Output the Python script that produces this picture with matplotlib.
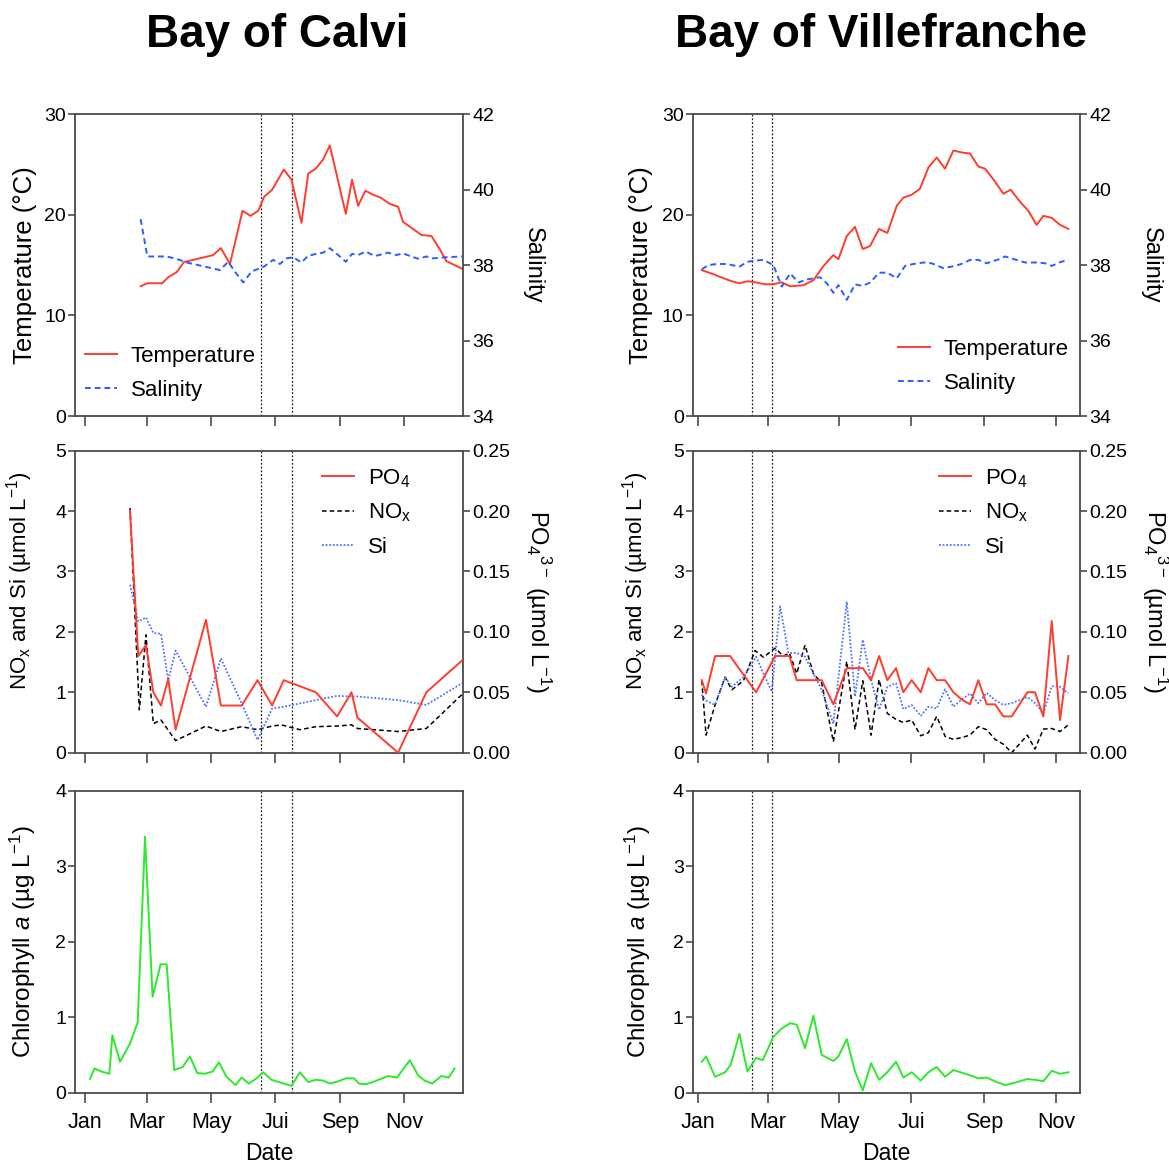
import matplotlib
matplotlib.use("Agg")
import matplotlib.pyplot as plt
from matplotlib.ticker import FormatStrFormatter

plt.rcParams['font.family'] = ['Liberation Sans', 'DejaVu Sans']
plt.rcParams['mathtext.fontset'] = 'custom'
plt.rcParams['mathtext.rm'] = 'Liberation Sans'
plt.rcParams['mathtext.it'] = 'Liberation Sans:italic'
plt.rcParams['mathtext.bf'] = 'Liberation Sans:bold'

# ---- data, x in day of year ----
month_ticks = [0, 59, 120, 181, 243, 304]
month_labels = ["Jan", "Mar", "May", "Jui", "Sep", "Nov"]

calvi_window = [167.6, 196.9]
ville_window = [45.9, 62.9]

# Bay of Calvi
calvi_temp_day = [52.9, 59.3, 73.5, 79.2, 87.2, 94.1, 122.0, 129.3, 137.9, 149.9,
                  157.5, 164.8, 170.5, 178.1, 189.2, 196.5, 206.0, 212.4, 219.7, 226.6,
                  233.0, 248.2, 254.2, 259.9, 266.9, 274.2, 281.5, 290.0, 298.0, 302.7,
                  312.2, 320.2, 329.7, 337.6, 343.9, 359.8]
calvi_temp = [12.9, 13.2, 13.2, 13.8, 14.3, 15.3, 16.0, 16.7, 15.1, 20.4,
              19.9, 20.4, 21.8, 22.5, 24.5, 23.5, 19.2, 24.1, 24.6, 25.5,
              26.9, 20.1, 23.5, 20.9, 22.4, 22.0, 21.7, 21.1, 20.8, 19.3,
              18.6, 18.0, 17.9, 16.6, 15.4, 14.6]
calvi_sal_day = [52.9, 59.3, 73.5, 80.8, 88.8, 96.7, 128.4, 136.3, 142.6, 150.6,
                 158.5, 164.8, 170.2, 179.1, 185.4, 191.8, 198.1, 206.0, 212.4, 220.3,
                 226.6, 233.0, 240.9, 248.2, 254.2, 259.9, 267.2, 275.8, 288.4, 296.4,
                 302.7, 310.6, 317.0, 324.9, 331.2, 343.9, 359.8]
calvi_sal = [39.22, 38.23, 38.23, 38.21, 38.15, 38.07, 37.87, 38.09, 37.83, 37.54,
             37.83, 37.90, 37.96, 38.14, 38.03, 38.18, 38.21, 38.07, 38.25, 38.30,
             38.33, 38.45, 38.27, 38.09, 38.30, 38.27, 38.36, 38.24, 38.33, 38.27,
             38.31, 38.23, 38.17, 38.23, 38.18, 38.21, 38.23]

calvi_po4_day = [42.8, 50.7, 58.0, 65.0, 72.3, 79.2, 86.2, 115.1, 129.3, 149.0,
                 164.2, 178.1, 189.2, 219.7, 240.0, 253.6, 259.3, 298.0, 324.9, 359.8]
calvi_po4 = [0.200, 0.080, 0.089, 0.050, 0.039, 0.061, 0.019, 0.110, 0.039, 0.039,
             0.060, 0.039, 0.060, 0.050, 0.030, 0.050, 0.029, 0.000, 0.050, 0.077]
calvi_nox_day = [42.8, 51.7, 58.0, 65.0, 72.3, 86.2, 115.1, 129.3, 149.0, 164.2,
                 178.1, 187.0, 204.5, 219.7, 240.0, 253.6, 259.3, 298.0, 324.9, 359.8]
calvi_nox = [4.05, 0.71, 1.95, 0.48, 0.54, 0.20, 0.44, 0.35, 0.43, 0.38,
             0.44, 0.46, 0.38, 0.43, 0.44, 0.46, 0.40, 0.35, 0.40, 0.98]
calvi_si_day = [42.8, 50.7, 58.0, 65.0, 72.3, 79.2, 86.2, 115.1, 129.3, 149.0,
                164.2, 178.1, 189.2, 219.7, 240.0, 253.6, 259.3, 298.0, 324.9, 359.8]
calvi_si = [2.78, 2.17, 2.24, 1.98, 1.97, 1.20, 1.69, 0.76, 1.56, 0.82,
            0.21, 0.73, 0.76, 0.87, 0.94, 0.93, 0.93, 0.87, 0.79, 1.16]

calvi_chl_day = [4.8, 8.9, 15.8, 23.1, 26.0, 33.3, 42.8, 50.1, 57.1, 64.3,
                 71.9, 77.7, 84.9, 92.9, 99.8, 106.8, 114.1, 121.4, 127.4, 134.7,
                 143.3, 149.0, 156.0, 163.2, 169.6, 177.5, 196.5, 204.5, 212.4, 219.4,
                 226.6, 233.0, 240.9, 248.2, 256.1, 260.6, 267.2, 275.8, 288.4, 297.0,
                 309.1, 317.0, 323.3, 330.3, 339.2, 346.1, 351.8]
calvi_chl = [0.18, 0.32, 0.28, 0.25, 0.76, 0.41, 0.65, 0.93, 3.39, 1.27,
             1.70, 1.70, 0.30, 0.34, 0.48, 0.26, 0.25, 0.28, 0.40, 0.21,
             0.10, 0.20, 0.12, 0.19, 0.27, 0.17, 0.09, 0.27, 0.14, 0.17,
             0.16, 0.12, 0.15, 0.19, 0.19, 0.12, 0.11, 0.15, 0.22, 0.20,
             0.43, 0.23, 0.16, 0.12, 0.22, 0.20, 0.32]

# Bay of Villefranche
ville_temp_day = [2.9, 12.8, 21.3, 28.4, 34.9, 41.7, 48.2, 56.7, 63.8, 70.9,
                  78.0, 89.3, 97.8, 106.3, 114.8, 119.1, 126.2, 133.2, 139.8, 146.0,
                  153.7, 160.7, 168.7, 174.3, 181.4, 188.5, 195.6, 202.7, 209.8, 216.9,
                  224.0, 231.0, 238.1, 243.8, 252.3, 259.4, 265.6, 273.6, 280.6, 287.7,
                  293.4, 300.5, 307.6, 314.7]
ville_temp = [14.5, 14.1, 13.7, 13.4, 13.2, 13.4, 13.3, 13.1, 13.1, 13.3,
              12.9, 13.0, 13.5, 14.9, 16.0, 15.6, 17.9, 18.8, 16.6, 16.9,
              18.6, 18.2, 20.9, 21.7, 22.0, 22.6, 24.7, 25.7, 24.6, 26.4,
              26.2, 26.1, 24.8, 24.6, 23.3, 22.1, 22.5, 21.3, 20.4, 19.0,
              19.9, 19.7, 19.0, 18.6]
ville_sal_day = [2.9, 8.5, 15.6, 24.1, 34.9, 41.7, 48.2, 55.3, 63.8, 70.9,
                 78.0, 85.1, 92.2, 103.5, 109.2, 114.8, 119.1, 126.2, 133.2, 139.8,
                 146.0, 153.7, 160.7, 168.7, 175.8, 182.8, 191.4, 198.4, 208.4, 218.3,
                 225.4, 231.0, 238.1, 245.2, 255.1, 260.8, 269.3, 277.8, 287.7, 294.8,
                 300.5, 307.6, 314.7]
ville_sal = [37.89, 38.00, 38.03, 38.03, 37.96, 38.09, 38.12, 38.14, 38.00, 37.43,
             37.78, 37.54, 37.62, 37.68, 37.52, 37.27, 37.47, 37.08, 37.49, 37.45,
             37.54, 37.80, 37.80, 37.65, 37.98, 38.03, 38.07, 38.05, 37.92, 37.98,
             38.05, 38.14, 38.14, 38.05, 38.15, 38.23, 38.15, 38.07, 38.07, 38.05,
             37.98, 38.08, 38.14]

ville_po4_day = [2.9, 6.5, 14.2, 27.0, 49.1, 65.2, 77.4, 83.6, 104.9, 114.8,
                 126.2, 139.8, 146.9, 153.7, 160.7, 168.1, 174.3, 181.4, 189.1, 195.6,
                 202.7, 209.8, 216.9, 224.0, 231.0, 238.1, 245.2, 252.3, 259.4, 266.5,
                 279.8, 286.3, 293.4, 300.5, 307.6, 314.7]
ville_po4 = [0.060, 0.049, 0.080, 0.080, 0.050, 0.080, 0.080, 0.060, 0.060, 0.040,
             0.070, 0.070, 0.060, 0.080, 0.060, 0.070, 0.050, 0.060, 0.050, 0.070,
             0.060, 0.060, 0.050, 0.044, 0.040, 0.060, 0.040, 0.040, 0.030, 0.030,
             0.050, 0.050, 0.030, 0.109, 0.027, 0.080]
ville_nox_day = [2.9, 6.5, 14.2, 22.7, 28.4, 38.3, 48.2, 55.3, 65.2, 72.3,
                 77.4, 83.6, 90.7, 97.8, 104.9, 114.8, 126.2, 133.2, 139.8, 146.9,
                 153.7, 160.7, 168.1, 174.3, 181.4, 189.1, 195.6, 202.7, 209.8, 216.9,
                 224.0, 231.0, 238.1, 245.2, 252.3, 259.4, 266.5, 279.8, 286.3, 293.4,
                 300.5, 307.6, 314.7]
ville_nox = [1.19, 0.29, 0.79, 1.25, 1.04, 1.19, 1.69, 1.58, 1.73, 1.60,
             1.65, 1.31, 1.78, 1.31, 1.15, 0.18, 1.51, 0.38, 1.19, 0.29,
             1.21, 0.65, 0.55, 0.50, 0.54, 0.28, 0.33, 0.60, 0.27, 0.22,
             0.25, 0.29, 0.43, 0.38, 0.22, 0.14, 0.00, 0.29, 0.06, 0.39,
             0.40, 0.35, 0.46]
ville_si_day = [2.9, 6.5, 14.2, 22.7, 28.4, 38.3, 49.1, 55.3, 62.4, 69.5,
                76.6, 83.6, 90.7, 97.8, 104.9, 114.8, 126.2, 133.2, 139.8, 146.9,
                153.7, 160.7, 168.1, 174.3, 181.4, 189.1, 195.6, 202.7, 209.8, 216.9,
                224.0, 231.0, 238.1, 245.2, 252.3, 259.4, 266.5, 279.8, 286.3, 293.4,
                300.5, 307.6, 314.7]
ville_si = [0.96, 0.86, 0.79, 1.25, 1.09, 1.25, 1.59, 1.31, 1.01, 2.42,
            1.65, 1.65, 1.59, 1.31, 1.04, 0.48, 2.50, 0.93, 1.87, 1.20,
            0.71, 1.09, 1.15, 0.72, 0.79, 0.61, 0.76, 0.73, 1.05, 0.76,
            0.88, 0.98, 0.82, 0.99, 0.87, 0.79, 0.82, 0.92, 0.82, 0.65,
            1.10, 1.09, 0.98]

ville_chl_day = [2.9, 6.5, 14.2, 22.7, 27.5, 34.9, 41.7, 49.1, 54.7, 63.8,
                 70.9, 78.0, 83.6, 90.7, 97.8, 104.9, 114.8, 119.1, 126.2, 133.2,
                 139.8, 146.9, 153.7, 160.7, 168.1, 174.3, 181.4, 189.1, 195.6, 202.7,
                 209.8, 216.9, 231.0, 238.1, 245.2, 252.3, 260.8, 266.5, 279.8, 286.3,
                 293.4, 300.5, 307.6, 314.7]
ville_chl = [0.41, 0.48, 0.21, 0.27, 0.37, 0.78, 0.28, 0.46, 0.43, 0.74,
             0.85, 0.92, 0.90, 0.59, 1.02, 0.50, 0.42, 0.48, 0.71, 0.28,
             0.03, 0.39, 0.17, 0.27, 0.41, 0.20, 0.27, 0.16, 0.27, 0.34,
             0.21, 0.30, 0.23, 0.19, 0.20, 0.15, 0.10, 0.12, 0.18, 0.17,
             0.15, 0.29, 0.25, 0.27]

# ---- style ----
RED = '#ff3d2e'
BLUE = '#2d5cff'
SI_BLUE = '#4d74ff'
GREEN = '#2ee82e'
SPINE = '#4a4a4a'


def style_ax(ax, xlim, window, show_months):
    for s in ax.spines.values():
        s.set_color(SPINE)
        s.set_linewidth(1.3)
    ax.set_xlim(*xlim)
    ax.set_xticks(month_ticks)
    if show_months:
        ax.set_xticklabels(month_labels)
        ax.set_xlabel('Date', fontsize=16.5, va='center')
        ax.xaxis.set_label_coords(0.5, -0.203)
    else:
        ax.set_xticklabels([])
    ax.tick_params(axis='y', direction='out', length=5, width=1.2, color=SPINE,
                   labelsize=14, pad=1.5)
    ax.tick_params(axis='x', direction='out', length=7, width=1.2, color=SPINE,
                   labelsize=15.5, pad=7)
    for d in window:
        ax.axvline(d, color='#222222', lw=0.9, ls=(0, (1.5, 1.5)), zorder=1)


def ylabel_left(ax, text, x, y=0.5, size=17.5):
    ax.set_ylabel(text, fontsize=size, va='center', ha='center')
    ax.yaxis.set_label_coords(x, y)


def ylabel_right(ax, text, x, y=0.5):
    ax.set_ylabel(text, fontsize=17, rotation=270, va='center', ha='center',
                  rotation_mode='anchor')
    ax.yaxis.set_label_coords(x, y)


def style_twin(ax2):
    for s in ax2.spines.values():
        s.set_visible(False)
    ax2.tick_params(direction='out', length=5, width=1.2, color=SPINE,
                    labelsize=14, pad=1.5)


fig = plt.figure(figsize=(11.69, 11.66), dpi=100)

cols = [
    dict(x0=0.0642, w=0.3319, xlim=(-9.5, 359.8), window=calvi_window, title='Bay of Calvi',
         tx=0.2374, temp=(calvi_temp_day, calvi_temp), sal=(calvi_sal_day, calvi_sal),
         po4=(calvi_po4_day, calvi_po4), nox=(calvi_nox_day, calvi_nox),
         si=(calvi_si_day, calvi_si), chl=(calvi_chl_day, calvi_chl),
         leg_top=(0.026, 0.232), leg_mid=(0.637, 0.946),
         lab_l=(-0.129, -0.142, -0.135), lab_r=(1.18, 1.193)),
    dict(x0=0.5926, w=0.3313, xlim=(-4.8, 324.6), window=ville_window, title='Bay of Villefranche',
         tx=0.754, temp=(ville_temp_day, ville_temp), sal=(ville_sal_day, ville_sal),
         po4=(ville_po4_day, ville_po4), nox=(ville_nox_day, ville_nox),
         si=(ville_si_day, ville_si), chl=(ville_chl_day, ville_chl),
         leg_top=(0.530, 0.256), leg_mid=(0.636, 0.946),
         lab_l=(-0.134, -0.147, -0.141), lab_r=(1.182, 1.195)),
]

rows = [(0.6432, 0.2588), (0.3545, 0.2590), (0.0629, 0.2590)]

for c in cols:
    fig.text(c['tx'], 0.9597, c['title'], fontsize=33, fontweight='bold',
             ha='center', va='baseline')

    # temperature / salinity
    ax = fig.add_axes([c['x0'], rows[0][0], c['w'], rows[0][1]])
    style_ax(ax, c['xlim'], c['window'], False)
    ax.set_ylim(0, 30)
    ax.set_yticks([0, 10, 20, 30])
    l1, = ax.plot(*c['temp'], color=RED, lw=1.4, label='Temperature')
    ax2 = ax.twinx()
    style_twin(ax2)
    ax2.set_ylim(34, 42)
    ax2.set_yticks([34, 36, 38, 40, 42])
    l2, = ax2.plot(*c['sal'], color=BLUE, lw=1.4, ls=(0, (3, 2)), label='Salinity')
    ylabel_left(ax, 'Temperature (°C)', c['lab_l'][0], size=18.5)
    ylabel_right(ax2, 'Salinity', c['lab_r'][0])
    ax2.legend(handles=[l1, l2], loc='upper left', bbox_to_anchor=c['leg_top'],
               frameon=False, fontsize=16,
               handlelength=1.45, handletextpad=0.6, labelspacing=0.58,
               borderpad=0, borderaxespad=0)

    # nutrients
    ax = fig.add_axes([c['x0'], rows[1][0], c['w'], rows[1][1]])
    style_ax(ax, c['xlim'], c['window'], False)
    ax.set_ylim(0, 5)
    ax.set_yticks([0, 1, 2, 3, 4, 5])
    l_nox, = ax.plot(*c['nox'], color='black', lw=1.1, ls=(0, (3, 2)), label=r'NO$_\mathregular{x}$')
    l_si, = ax.plot(*c['si'], color=SI_BLUE, lw=1.3, ls=(0, (1, 1)), label='Si')
    ax2 = ax.twinx()
    style_twin(ax2)
    ax2.set_ylim(0, 0.25)
    ax2.set_yticks([0, 0.05, 0.10, 0.15, 0.20, 0.25])
    ax2.yaxis.set_major_formatter(FormatStrFormatter('%.2f'))
    l_po4, = ax2.plot(*c['po4'], color=RED, lw=1.4, label=r'PO$_\mathregular{4}$')
    ylabel_left(ax, r'NO$_\mathregular{x}$ and Si (µmol L$^\mathregular{-1}$)', c['lab_l'][1], 0.57, size=16)
    ylabel_right(ax2, r'PO$_\mathregular{4}$$^\mathregular{3-}$ (µmol L$^\mathregular{-1}$)', c['lab_r'][1])
    ax2.legend(handles=[l_po4, l_nox, l_si], loc='upper left', bbox_to_anchor=c['leg_mid'],
               frameon=False, fontsize=16,
               handlelength=1.45, handletextpad=0.6, labelspacing=0.55,
               borderpad=0, borderaxespad=0)

    # chlorophyll
    ax = fig.add_axes([c['x0'], rows[2][0], c['w'], rows[2][1]])
    style_ax(ax, c['xlim'], c['window'], True)
    ax.set_ylim(0, 4)
    ax.set_yticks([0, 1, 2, 3, 4])
    ax.plot(*c['chl'], color=GREEN, lw=1.4)
    ylabel_left(ax, r'Chlorophyll $\mathit{a}$ (µg L$^\mathregular{-1}$)', c['lab_l'][2])

fig.savefig('out.png', dpi=100)
